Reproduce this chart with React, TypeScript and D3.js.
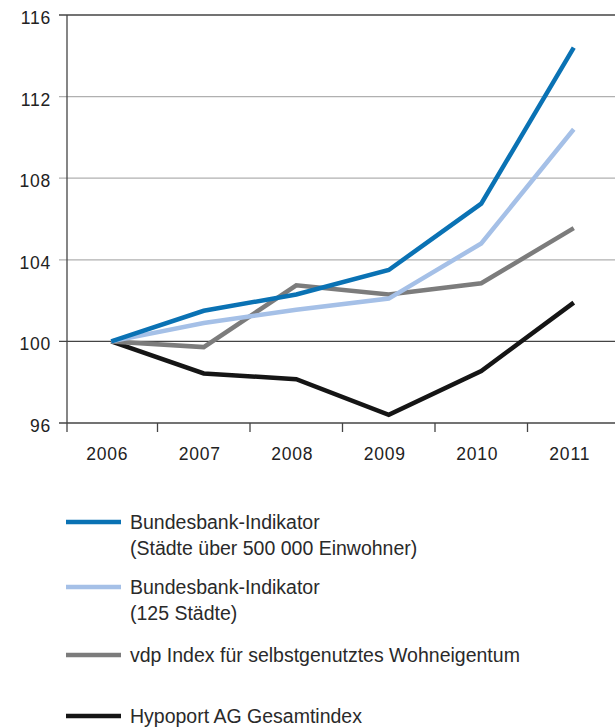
import React, { useEffect, useRef } from "react";
import * as d3 from "d3";

const years = ["2006", "2007", "2008", "2009", "2010", "2011"];
const bbBig = [100, 101.5, 102.3, 103.5, 106.75, 114.4];
const bb125 = [100, 100.9, 101.55, 102.1, 104.8, 110.4];
const vdp = [100, 99.72, 102.75, 102.3, 102.85, 105.55];
const hypoport = [100, 98.43, 98.15, 96.4, 98.55, 101.9];
const yTicks = [96, 100, 104, 108, 112, 116];

const seriesNames = [
  ["Bundesbank-Indikator", "(Städte über 500 000 Einwohner)"],
  ["Bundesbank-Indikator", "(125 Städte)"],
  ["vdp Index für selbstgenutztes Wohneigentum"],
  ["Hypoport AG Gesamtindex"],
];
const seriesColors = ["#0a72b4", "#a5c0e7", "#7c7c7c", "#151515"];

export default function App() {
  const ref = useRef<SVGSVGElement>(null);

  useEffect(() => {
    const svg = d3.select(ref.current);
    svg.selectAll("*").remove();

    const width = 615;
    const left = 67;
    const font = "'Liberation Sans', Arial, Helvetica, sans-serif";

    const x = d3.scaleBand().domain(years).range([65, 620]);
    const y = d3.scaleLinear().domain([96, 116]).range([423, 15]);

    // grid lines
    svg.append("g")
      .selectAll("line")
      .data(yTicks)
      .join("line")
      .attr("x1", left - 8)
      .attr("x2", width)
      .attr("y1", d => y(d))
      .attr("y2", d => y(d))
      .attr("stroke", d => (d === 116 || d === 100 || d === 96 ? "#444" : "#b0b0b0"))
      .attr("stroke-width", 1.3);

    // y axis line
    svg.append("line")
      .attr("x1", left).attr("x2", left)
      .attr("y1", y(116)).attr("y2", y(96) + 9)
      .attr("stroke", "#444").attr("stroke-width", 1.3);

    // x ticks between categories
    svg.append("g")
      .selectAll("line")
      .data(years.slice(1))
      .join("line")
      .attr("x1", d => x(d)!)
      .attr("x2", d => x(d)!)
      .attr("y1", y(96))
      .attr("y2", y(96) + 9)
      .attr("stroke", "#444").attr("stroke-width", 1.3);

    // y labels
    svg.append("g")
      .selectAll("text")
      .data(yTicks)
      .join("text")
      .attr("x", 51)
      .attr("y", d => y(d) + 9)
      .attr("text-anchor", "end")
      .attr("font-family", font)
      .attr("font-size", 17.5)
      .attr("letter-spacing", 0.8)
      .attr("fill", "#222")
      .text(d => d);

    // x labels
    svg.append("g")
      .selectAll("text")
      .data(years)
      .join("text")
      .attr("x", d => x(d)! + x.bandwidth() / 2 - 4)
      .attr("y", 460)
      .attr("text-anchor", "middle")
      .attr("font-family", font)
      .attr("font-size", 17.5)
      .attr("letter-spacing", 0.8)
      .attr("fill", "#222")
      .text(d => d);

    // lines
    const line = d3.line<number>()
      .x((d, i) => x(years[i])! + x.bandwidth() / 2)
      .y(d => y(d));

    const all = [bbBig, bb125, vdp, hypoport];
    const drawOrder = [3, 2, 1, 0];
    drawOrder.forEach(k => {
      svg.append("path")
        .attr("d", line(all[k]))
        .attr("fill", "none")
        .attr("stroke", seriesColors[k])
        .attr("stroke-width", 4.5)
        .attr("stroke-linejoin", "miter");
    });

    // legend
    const legendY = [522, 587, 655, 716];
    const legend = svg.append("g");
    seriesNames.forEach((lines, k) => {
      legend.append("line")
        .attr("x1", 66).attr("x2", 121)
        .attr("y1", legendY[k]).attr("y2", legendY[k])
        .attr("stroke", seriesColors[k])
        .attr("stroke-width", 4.5);
      lines.forEach((t, j) => {
        legend.append("text")
          .attr("x", 130)
          .attr("y", legendY[k] + 7 + j * 26)
          .attr("font-family", font)
          .attr("font-size", 19.5)
          .attr("fill", "#2a2a2a")
          .text(t);
      });
    });
  }, []);

  return (
    <svg
      ref={ref}
      width={615}
      height={728}
      style={{ position: "absolute", left: 0, top: 0, background: "#fff" }}
    />
  );
}
